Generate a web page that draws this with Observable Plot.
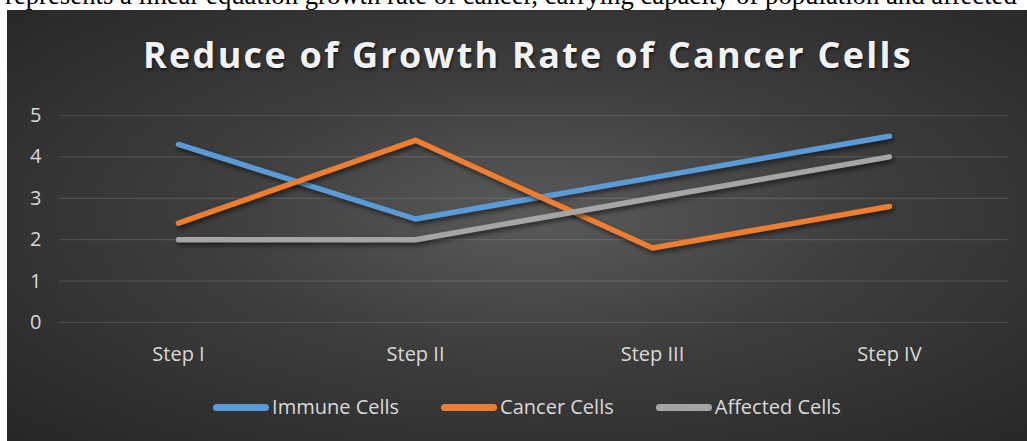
<!DOCTYPE html>
<html>
<head>
<meta charset="utf-8">
<script src="https://cdn.jsdelivr.net/npm/d3@7"></script>
<script src="https://cdn.jsdelivr.net/npm/@observablehq/plot@0.6"></script>
<style>
  html, body { margin: 0; padding: 0; background: #ffffff; width: 1027px; height: 441px; overflow: hidden; position: relative; }
  #caption { position: absolute; left: 5px; top: -17px; white-space: nowrap; font-family: "Liberation Serif", "Times New Roman", serif; color: #000; line-height: 24px; }
  #panel { position: absolute; left: 7px; top: 10px; width: 1020px; height: 431px; overflow: hidden;
           background: radial-gradient(ellipse farthest-corner at 52% 48%, #5a5a5a 0%, #3d3d3d 45%, #262626 100%); }
  #title { position: absolute; left: 0; top: 27px; width: 1020px; height: 36px; line-height: 36px; text-align: center;
           font-family: "Open Sans", sans-serif; font-weight: 700; font-size: 36px; color: #f2f2f2;
           text-shadow: 1px 2px 3px rgba(0,0,0,0.55); white-space: nowrap; }
  #title span { position: relative; left: 11px; }
  #chart { position: absolute; left: 0; top: 79px; }
  #legend { position: absolute; left: 0; top: 385px; width: 1020px; height: 24px; display: flex; justify-content: center;
            align-items: center; font-family: "Open Sans", sans-serif; font-size: 20px; color: #d9d9d9; }
  #legend .inner { display: flex; align-items: center; position: relative; left: 10px; }
  #legend .item { display: flex; align-items: center; margin: 0 21px; line-height: 24px; }
  #legend .sw { width: 56px; height: 7px; border-radius: 4px; margin-right: 3px; }
</style>
</head>
<body>
<div id="caption">represents a linear equation growth rate of cancer, carrying capacity of population and affected</div>
<div id="panel">
  <div id="title"><span></span></div>
  <div id="chart"></div>
  <div id="legend"><div class="inner"></div></div>
</div>
<script>
// ---- data ----
const steps = ["Step I", "Step II", "Step III", "Step IV"];
const immuneCells = [4.3, 2.5, 3.5, 4.5];
const cancerCells = [2.4, 4.4, 1.8, 2.8];
const affectedCells = [2, 2, 3, 4];
const seriesNames = ["Immune Cells", "Cancer Cells", "Affected Cells"];
const seriesColors = ["#5b9bd5", "#ed7d31", "#a5a5a5"];
const yTicks = [0, 1, 2, 3, 4, 5];
const titleText = "Reduce of Growth Rate of Cancer Cells";

const seriesValues = [immuneCells, cancerCells, affectedCells];
const rows = [];
seriesNames.forEach((name, si) => {
  steps.forEach((s, i) => rows.push({ series: name, step: s, value: seriesValues[si][i] }));
});

// ---- caption fit ----
(function () {
  const cap = document.getElementById("caption");
  const c = document.createElement("canvas").getContext("2d");
  c.font = '24px "Liberation Serif"';
  const w = c.measureText(cap.textContent).width;
  cap.style.fontSize = (24 * 1012 / w).toFixed(2) + "px";
})();

// ---- title ----
(function () {
  const t = document.querySelector("#title span");
  t.textContent = titleText;
  const c = document.createElement("canvas").getContext("2d");
  c.font = '700 36px "Open Sans"';
  const w = c.measureText(titleText).width;
  const ls = (770 - w) / (titleText.length);
  t.style.letterSpacing = ls.toFixed(2) + "px";
})();

// ---- chart ----
const chart = Plot.plot({
  width: 1020,
  height: 280,
  marginTop: 26,
  marginBottom: 47,
  marginLeft: 52,
  marginRight: 19,
  style: { background: "transparent", color: "#d9d9d9", fontFamily: "'Open Sans', sans-serif", fontSize: "20px", overflow: "visible" },
  x: { type: "point", domain: steps, padding: 0.5, label: null, tickSize: 0, tickPadding: 24 },
  y: { domain: [0, 5], ticks: yTicks, tickFormat: d3.format("d"), label: null, tickSize: 0, tickPadding: 18 },
  color: { domain: seriesNames, range: seriesColors },
  marks: [
    Plot.ruleY(yTicks, { stroke: "#ffffff", strokeOpacity: 0.12, strokeWidth: 1.2 }),
    Plot.line(rows, { x: "step", y: "value", z: "series", stroke: "series", strokeWidth: 5.5, strokeLinecap: "round", strokeLinejoin: "round" })
  ]
});
document.getElementById("chart").appendChild(chart);
d3.select(chart).selectAll("g[aria-label='line'] path").style("filter", "drop-shadow(2px 3px 2px rgba(0,0,0,0.5))");

// ---- legend ----
const inner = d3.select("#legend .inner");
seriesNames.forEach((n, i) => {
  const it = inner.append("div").attr("class", "item");
  it.append("div").attr("class", "sw").style("background", seriesColors[i]);
  it.append("span").text(n);
});
</script>
</body>
</html>
